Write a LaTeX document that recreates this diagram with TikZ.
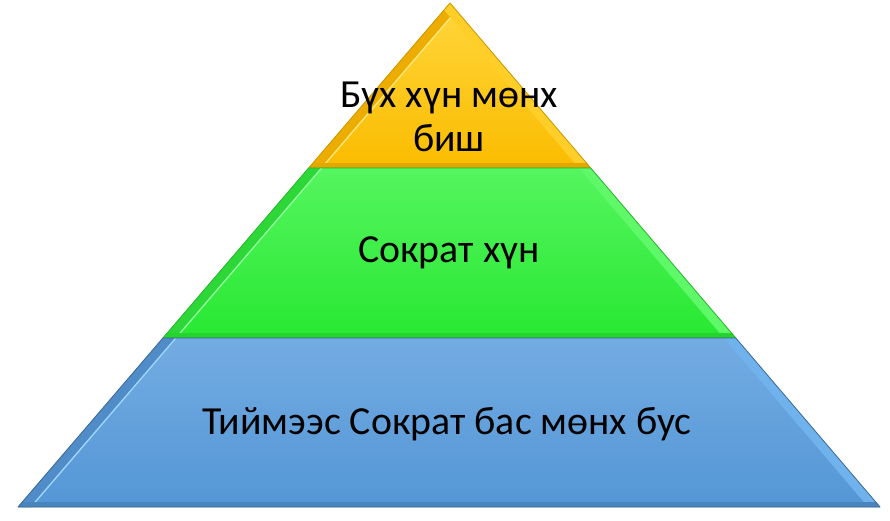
\documentclass[tikz,border=0pt]{standalone}
\usepackage{fontspec}
\setmainfont{Carlito}
\usetikzlibrary{positioning,calc}
\definecolor{goldtop}{RGB}{255,214,60}
\definecolor{goldbot}{RGB}{250,188,0}
\definecolor{goldleft}{RGB}{236,172,0}
\definecolor{goldright}{RGB}{255,206,40}
\definecolor{goldhi}{RGB}{255,232,130}
\definecolor{goldedge}{RGB}{205,150,0}
\definecolor{greentop}{RGB}{85,245,95}
\definecolor{greenbot}{RGB}{40,232,50}
\definecolor{greenleft}{RGB}{45,215,55}
\definecolor{greenright}{RGB}{95,248,105}
\definecolor{greenhi}{RGB}{150,255,160}
\definecolor{greenedge}{RGB}{40,180,45}
\definecolor{bluetop}{RGB}{115,172,226}
\definecolor{bluebot}{RGB}{84,150,214}
\definecolor{blueleft}{RGB}{80,140,200}
\definecolor{blueright}{RGB}{112,178,236}
\definecolor{bluehi}{RGB}{160,215,252}
\definecolor{blueedge}{RGB}{60,105,150}

\begin{document}
\begin{tikzpicture}[x=1pt, y=-1pt,
    tiertext/.style={font=\fontsize{39.8}{44}\selectfont, align=center, text=black, inner sep=0pt},
    bevel/.style={line width=18pt},
    shine/.style={line width=21pt},
    foot/.style={line width=11pt},
    rim/.style={line width=0.8pt, line join=round}]
  \useasboundingbox (0,0) rectangle (890,520);

  % corners of the pyramid
  \coordinate (apex) at (450,3);
  \coordinate (tl) at (308.6,168);
  \coordinate (tr) at (590.7,168);
  \coordinate (ml) at (162.9,338);
  \coordinate (mr) at (735.8,338);
  \coordinate (bl) at (18,507);
  \coordinate (br) at (880,507);

  % top tier
  \shade[top color=goldtop, bottom color=goldbot] (apex) -- (tr) -- (tl) -- cycle;
  \begin{scope}
    \clip (apex) -- (tr) -- (tl) -- cycle;
    \draw[shine, goldhi] ($(apex)!-0.2!(tl)$) -- ($(tl)!-0.2!(apex)$);
    \draw[bevel, goldleft] ($(apex)!-0.2!(tl)$) -- ($(tl)!-0.2!(apex)$);
    \draw[bevel, goldright] ($(apex)!-0.2!(tr)$) -- ($(tr)!-0.2!(apex)$);
    \draw[foot, goldbot!90!black] ($(tl)!-0.1!(tr)$) -- ($(tr)!-0.1!(tl)$);
  \end{scope}
  \draw[rim, goldedge] (apex) -- (tr) -- (tl) -- cycle;

  % middle tier
  \shade[top color=greentop, bottom color=greenbot] (tl) -- (tr) -- (mr) -- (ml) -- cycle;
  \begin{scope}
    \clip (tl) -- (tr) -- (mr) -- (ml) -- cycle;
    \draw[shine, greenhi] ($(tl)!-0.2!(ml)$) -- ($(ml)!-0.2!(tl)$);
    \draw[bevel, greenleft] ($(tl)!-0.2!(ml)$) -- ($(ml)!-0.2!(tl)$);
    \draw[bevel, greenright] ($(tr)!-0.2!(mr)$) -- ($(mr)!-0.2!(tr)$);
    \draw[foot, greenbot!92!black] ($(ml)!-0.1!(mr)$) -- ($(mr)!-0.1!(ml)$);
  \end{scope}
  \draw[rim, greenedge] (tl) -- (tr) -- (mr) -- (ml) -- cycle;

  % bottom tier
  \shade[top color=bluetop, bottom color=bluebot] (ml) -- (mr) -- (br) -- (bl) -- cycle;
  \begin{scope}
    \clip (ml) -- (mr) -- (br) -- (bl) -- cycle;
    \draw[shine, bluehi] ($(ml)!-0.2!(bl)$) -- ($(bl)!-0.2!(ml)$);
    \draw[bevel, blueleft] ($(ml)!-0.2!(bl)$) -- ($(bl)!-0.2!(ml)$);
    \draw[bevel, blueright] ($(mr)!-0.2!(br)$) -- ($(br)!-0.2!(mr)$);
    \draw[foot, bluebot!88!black] ($(bl)!-0.1!(br)$) -- ($(br)!-0.1!(bl)$);
  \end{scope}
  \draw[rim, blueedge] (ml) -- (mr) -- (br) -- (bl) -- cycle;

  % labels
  \node[tiertext, anchor=base] (toptext) at (449,151) {Бүх хүн мөнх\\биш};
  \node[tiertext, anchor=base] (midtext) at (449,262) {Сократ хүн};
  \node[tiertext, anchor=base] (basetext) at (447,434) {Тиймээс Сократ бас мөнх бус};
\end{tikzpicture}
\end{document}
